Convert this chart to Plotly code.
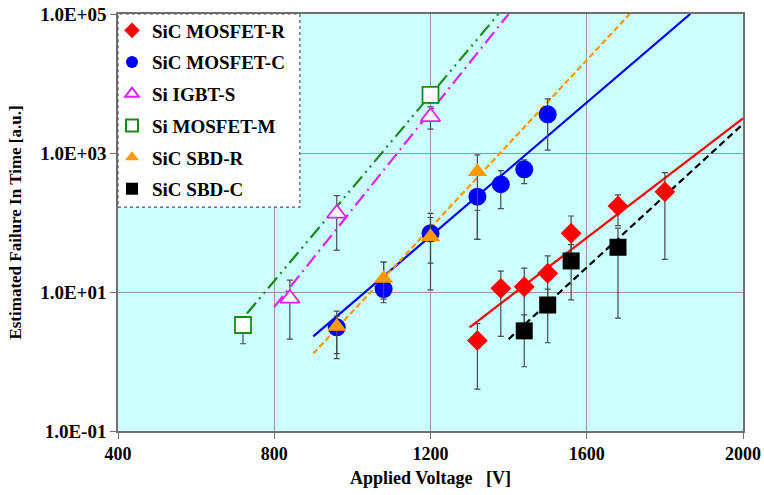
import plotly.graph_objects as go

# ---------------- data ----------------
# SiC MOSFET-R
mr_x = [1320, 1380, 1440, 1500, 1560, 1680, 1800]
mr_y = [2.0, 11.3, 11.9, 18.6, 70, 173, 277]
mr_hi = [3.5, 20, 22, 33, 124, 249, 521]
mr_lo = [0.40, 2.3, 2.5, 8.0, 30, 90, 29.5]
mr_fit_x = [1300, 2000]
mr_fit_y = [3.1, 3150]

# SiC MOSFET-C
mc_x = [960, 1080, 1200, 1320, 1380, 1440, 1500]
mc_y = [3.1, 11, 70, 235, 355, 582, 3600]
mc_hi = [5.3, 27, 135, 150, 556, 795, 6000]
mc_lo = [1.1, 7.0, 10.7, 57, 158, 363, 1100]
mc_fit_x = [900, 1865]
mc_fit_y = [2.3, 1.0e5]

# Si IGBT-S
ig_x = [840, 960, 1200]
ig_y = [8.1, 135, 3320]
ig_hi = [14.8, 243, 4600]
ig_lo = [2.1, 40, 2200]
ig_fit_x = [800, 1400]
ig_fit_y = [6.1, 1.0e5]

# Si MOSFET-M
mm_x = [720, 1200]
mm_y = [3.35, 6840]
mm_hi = [4.4, 7600]
mm_lo = [1.8, 5200]
mm_fit_x = [730, 1374]
mm_fit_y = [4.9, 1.0e5]

# SiC SBD-R
sr_x = [960, 1080, 1200, 1320]
sr_y = [3.2, 15.7, 62.5, 538]
sr_hi = [4.5, 27, 118, 940]
sr_lo = [1.3, 7.9, 26, 57]
sr_fit_x = [900, 1710]
sr_fit_y = [1.3, 1.0e5]

# SiC SBD-C
sc_x = [1440, 1500, 1560, 1680]
sc_y = [2.76, 6.5, 28, 44]
sc_hi = [4.7, 11, 48, 83]
sc_lo = [0.84, 1.86, 7.7, 4.2]
sc_fit_x = [1400, 2000]
sc_fit_y = [2.1, 2610]

x_ticks = [400, 800, 1200, 1600, 2000]
y_ticks = [0.1, 10, 1000, 100000]
y_tick_text = ["1.0E-01", "1.0E+01", "1.0E+03", "1.0E+05"]

# ---------------- figure ----------------
FONT = "Liberation Serif, Times New Roman, serif"
ERR_COLOR = "#4A4A4A"

fig = go.Figure()

fits = [
    (mr_fit_x, mr_fit_y, "#FF0000", "solid"),
    (mc_fit_x, mc_fit_y, "#0000FF", "solid"),
    (ig_fit_x, ig_fit_y, "#DD22EE", "14px,5px,2px,5px"),
    (mm_fit_x, mm_fit_y, "#1A8A1A", "14px,5px,2px,5px,2px,5px"),
    (sr_fit_x, sr_fit_y, "#FF9900", "6px,3px"),
    (sc_fit_x, sc_fit_y, "#000000", "7px,4px"),
]
for fx, fy, col, dash in fits:
    fig.add_trace(go.Scatter(x=fx, y=fy, mode="lines", showlegend=False,
                             hoverinfo="skip",
                             line=dict(color=col, width=2.2, dash=dash)))


def err(y, hi, lo):
    return dict(type="data", symmetric=False,
                array=[h - v for h, v in zip(hi, y)],
                arrayminus=[v - l for v, l in zip(y, lo)],
                color=ERR_COLOR, thickness=1.2, width=3)


series = [
    ("SiC MOSFET-R", mr_x, mr_y, mr_hi, mr_lo,
     dict(symbol="diamond", size=16, color="#FF0000")),
    ("SiC MOSFET-C", mc_x, mc_y, mc_hi, mc_lo,
     dict(symbol="circle", size=18, color="#0000FF")),
    ("Si IGBT-S", ig_x, ig_y, ig_hi, ig_lo,
     dict(symbol="triangle-up", size=17, color="#FFFFFF",
          line=dict(color="#DD22EE", width=1.8))),
    ("Si MOSFET-M", mm_x, mm_y, mm_hi, mm_lo,
     dict(symbol="square", size=16, color="#FFFFFF",
          line=dict(color="#1A8A1A", width=1.8))),
    ("SiC SBD-R", sr_x, sr_y, sr_hi, sr_lo,
     dict(symbol="triangle-up", size=17, color="#FF9900")),
    ("SiC SBD-C", sc_x, sc_y, sc_hi, sc_lo,
     dict(symbol="square", size=17, color="#000000")),
]
for name, x, y, hi, lo, mk in series:
    fig.add_trace(go.Scatter(x=x, y=y, mode="markers", name=name,
                             legendgroup=name, marker=mk,
                             error_y=err(y, hi, lo)))

fig.update_layout(
    width=764, height=495,
    margin=dict(l=118, r=21, t=14, b=64),
    paper_bgcolor="white",
    plot_bgcolor="#CCFFFF",
    hovermode=False,
    font=dict(family=FONT, size=19, color="black"),
    showlegend=True,
    legend=dict(x=-0.0096, y=1.006, xanchor="left", yanchor="top",
                bgcolor="rgba(0,0,0,0)", borderwidth=0,
                traceorder="grouped", tracegroupgap=4,
                itemsizing="constant",
                font=dict(family=FONT, size=19, color="black",
                          weight="bold"),
                itemwidth=30),
    shapes=[dict(type="rect", xref="paper", yref="paper",
                 x0=0, x1=0.291, y0=0.537, y1=1.0,
                 fillcolor="white", line=dict(color="#555555", width=1.2,
                                              dash="dot"),
                 layer="above")],
)

fig.update_xaxes(
    range=[400, 2000], tickvals=x_ticks, automargin=False,
    ticklabeloverflow="allow",
    showgrid=True, gridcolor="#999999", gridwidth=1,
    showline=True, linecolor="#707070", linewidth=1.5, mirror=True,
    ticks="outside", ticklen=6, tickcolor="#707070",
    tickfont=dict(family=FONT, size=18, weight="bold"),
    zeroline=False,
    title=dict(text="Applied Voltage\u00a0\u00a0\u00a0[V]",
               font=dict(family=FONT, size=18, weight="bold"),
               standoff=8),
)
fig.update_yaxes(
    type="log", range=[-1, 5], tickvals=y_ticks, ticktext=y_tick_text,
    automargin=False, ticklabeloverflow="allow",
    showgrid=True, gridcolor="#999999", gridwidth=1,
    showline=True, linecolor="#707070", linewidth=1.5, mirror=True,
    ticks="outside", ticklen=6, tickcolor="#707070",
    tickfont=dict(family=FONT, size=19, weight="bold"),
    zeroline=False,
    title=dict(text="Estimated Failure In Time [a.u.]",
               font=dict(family=FONT, size=17, weight="bold"),
               standoff=14),
)

# remove the default page margin so the 764x495 figure fills the window
fig.write_html("out.html",
               config={"displayModeBar": False},
               post_script="document.body.style.margin='0';"
                           "document.body.style.overflow='hidden';")
